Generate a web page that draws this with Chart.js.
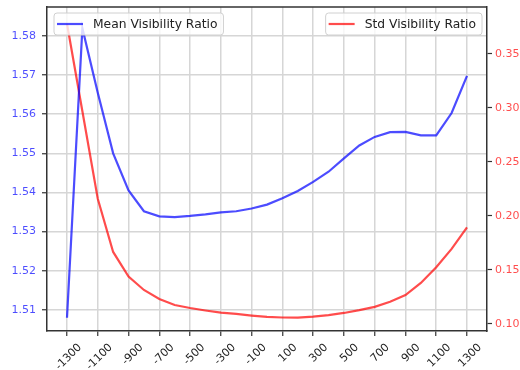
<!DOCTYPE html>
<html>
<head>
<meta charset="utf-8">
<script src="https://cdn.jsdelivr.net/npm/chart.js@4"></script>
<style>
html,body{margin:0;padding:0;background:#fff;}
#wrap{width:520px;height:370px;position:relative;}
</style>
</head>
<body>
<div id="wrap"><canvas id="c" width="520" height="370"></canvas></div>
<script>
const positions = [-1300,-1200,-1100,-1000,-900,-800,-700,-600,-500,-400,-300,-200,-100,0,100,200,300,400,500,600,700,800,900,1000,1100,1200,1300];
const meanVisibility = [1.508,1.582,1.5655,1.550,1.5405,1.5352,1.5339,1.5337,1.5340,1.5344,1.5349,1.5352,1.5359,1.5369,1.5385,1.5404,1.5427,1.5453,1.5487,1.5520,1.5542,1.5554,1.5555,1.5546,1.5546,1.5603,1.5698];
const stdVisibility = [0.378,0.297,0.216,0.1667,0.1440,0.1315,0.1231,0.1176,0.1148,0.1125,0.1105,0.1093,0.1078,0.1066,0.1060,0.1058,0.1068,0.1082,0.1102,0.1128,0.1158,0.1205,0.1268,0.1380,0.1525,0.1695,0.1895];
const xTickLabels = [-1300,-1100,-900,-700,-500,-300,-100,100,300,500,700,900,1100,1300];
const leftTicks = [1.51,1.52,1.53,1.54,1.55,1.56,1.57,1.58];
const rightTicks = [0.10,0.15,0.20,0.25,0.30,0.35];
const seriesNames = ['Mean Visibility Ratio','Std Visibility Ratio'];

const BLUE = 'rgba(0,0,255,0.7)';
const RED = 'rgba(255,0,0,0.7)';
const FONT = 'DejaVu Sans';
const GRID = '#d6d6d6';
const SPINE = '#333333';

const dualLegend = {
  id: 'dualLegend',
  afterDraw(chart) {
    const ctx = chart.ctx;
    const ca = chart.chartArea;
    ctx.save();
    ctx.font = '12.3px "' + FONT + '"';
    const drawBox = (ds, anchorX, alignRight) => {
      const tw = ctx.measureText(ds.label).width;
      const padL = 3, lineLen = 26, gap = 10, padR = 6;
      const w = padL + lineLen + gap + tw + padR;
      const h = 22;
      const x = alignRight ? anchorX - w : anchorX;
      const y = ca.top + 6;
      ctx.beginPath();
      ctx.roundRect(x, y, w, h, 3);
      ctx.fillStyle = 'rgba(255,255,255,0.8)';
      ctx.fill();
      ctx.strokeStyle = '#d0d0d0';
      ctx.lineWidth = 1;
      ctx.stroke();
      const cy = y + h / 2;
      ctx.beginPath();
      ctx.moveTo(x + padL, cy);
      ctx.lineTo(x + padL + lineLen, cy);
      ctx.strokeStyle = ds.borderColor;
      ctx.lineWidth = 2.2;
      ctx.stroke();
      ctx.fillStyle = '#222';
      ctx.textBaseline = 'middle';
      ctx.textAlign = 'left';
      ctx.fillText(ds.label, x + padL + lineLen + gap, cy + 0.5);
    };
    drawBox(chart.data.datasets[0], ca.left + 7, false);
    drawBox(chart.data.datasets[1], ca.right - 5, true);
    ctx.restore();
  }
};

const topSpine = {
  id: 'topSpine',
  afterDatasetsDraw(chart) {
    const ctx = chart.ctx, ca = chart.chartArea;
    ctx.save();
    ctx.strokeStyle = SPINE;
    ctx.lineWidth = 1.5;
    ctx.beginPath();
    ctx.moveTo(ca.left, ca.top);
    ctx.lineTo(ca.right, ca.top);
    ctx.stroke();
    ctx.restore();
  }
};

new Chart(document.getElementById('c'), {
  type: 'line',
  data: {
    datasets: [
      {
        label: seriesNames[0],
        data: positions.map((p, i) => ({x: p, y: meanVisibility[i]})),
        borderColor: BLUE,
        borderWidth: 2.2,
        pointRadius: 0,
        tension: 0,
        yAxisID: 'y'
      },
      {
        label: seriesNames[1],
        data: positions.map((p, i) => ({x: p, y: stdVisibility[i]})),
        borderColor: RED,
        borderWidth: 2.2,
        pointRadius: 0,
        tension: 0,
        yAxisID: 'y2'
      }
    ]
  },
  options: {
    responsive: false,
    animation: false,
    events: [],
    layout: {padding: {top: 7, left: 0, right: 0, bottom: 0}},
    plugins: {legend: {display: false}, tooltip: {enabled: false}},
    scales: {
      x: {
        type: 'linear',
        min: -1430,
        max: 1430,
        afterBuildTicks: (s) => { s.ticks = xTickLabels.map(v => ({value: v})); },
        afterFit: (s) => { s.height = 39; s.paddingLeft = 0; s.paddingRight = 0; },
        ticks: {
          autoSkip: false,
          minRotation: 45,
          maxRotation: 45,
          labelOffset: 13,
          padding: 5,
          color: '#222',
          font: {family: FONT, size: 11},
          callback: (v) => String(v)
        },
        grid: {color: GRID, lineWidth: 1.5, tickLength: 5, tickColor: SPINE, tickWidth: 1.2},
        border: {color: SPINE, width: 1.5}
      },
      y: {
        position: 'left',
        min: 1.5046,
        max: 1.5874,
        afterBuildTicks: (s) => { s.ticks = leftTicks.map(v => ({value: v})); },
        afterFit: (s) => { s.width = 47; s.paddingTop = 0; s.paddingBottom = 0; },
        ticks: {
          color: BLUE,
          padding: 6,
          font: {family: FONT, size: 11},
          callback: (v) => Number(v).toFixed(2)
        },
        grid: {color: GRID, lineWidth: 1.5, tickLength: 5, tickColor: SPINE, tickWidth: 1.2},
        border: {color: SPINE, width: 1.5}
      },
      y2: {
        position: 'right',
        min: 0.0935,
        max: 0.3935,
        afterBuildTicks: (s) => { s.ticks = rightTicks.map(v => ({value: v})); },
        afterFit: (s) => { s.width = 33; s.paddingTop = 0; s.paddingBottom = 0; },
        ticks: {
          color: RED,
          padding: 3,
          font: {family: FONT, size: 11},
          callback: (v) => Number(v).toFixed(2)
        },
        grid: {drawOnChartArea: false, tickLength: 5, color: SPINE, tickWidth: 1.2},
        border: {color: SPINE, width: 1.5}
      }
    }
  },
  plugins: [topSpine, dualLegend]
});
</script>
</body>
</html>
